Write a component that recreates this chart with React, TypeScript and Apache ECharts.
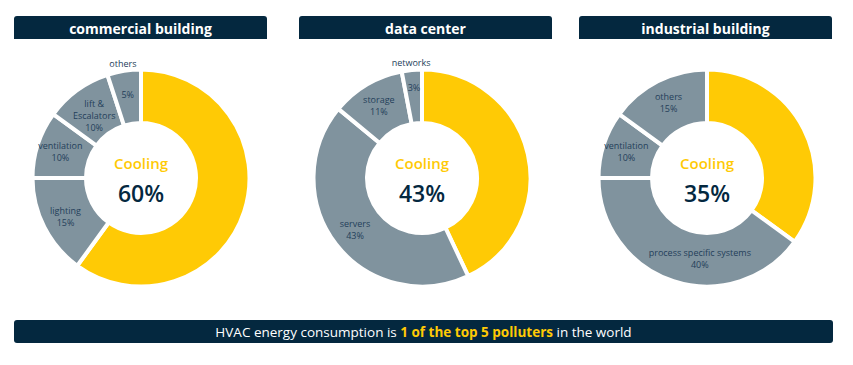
import React, { useEffect, useRef } from "react";
import * as echarts from "echarts";

const panelTitles = ["commercial building", "data center", "industrial building"];

const commercialNames = ["Cooling", "lighting", "ventilation", "lift &\nEscalators", "others"];
const commercialValues = [60, 15, 10, 10, 5];

const dataCenterNames = ["Cooling", "servers", "storage", "networks"];
const dataCenterValues = [43, 43, 11, 3];

const industrialNames = ["Cooling", "process specific systems", "ventilation", "others"];
const industrialValues = [35, 40, 10, 15];

// slices whose name sits outside the ring
const outsideNames = [["others"], ["networks"], []];

const bannerParts = ["HVAC energy consumption is ", "1 of the top 5 polluters", " in the world"];

const NAVY = "#04283F";
const YELLOW = "#FFCA05";
const GRAY = "#80939E";
const LABEL = "#24405A";
const FONT = "'Open Sans', 'Noto Sans', sans-serif";

export default function App() {
  const ref = useRef<HTMLDivElement>(null);

  useEffect(() => {
    if (!ref.current) return;
    const chart = echarts.init(ref.current, null, { renderer: "svg" });

    const panels = [
      { names: commercialNames, values: commercialValues, cx: 141 },
      { names: dataCenterNames, values: dataCenterValues, cx: 422 },
      { names: industrialNames, values: industrialValues, cx: 707 },
    ];
    const cy = 178;
    const headerX = [14, 299, 579];
    const headerW = 253;

    const itemTweaks: Record<string, any> = {
      "process specific systems": { padding: [0, 0, 0, 38] },
      networks: { formatter: "{c}%\n " },
      "lift &\nEscalators": { formatter: "\n{b}\n{c}%", padding: [0, 0, 0, 6] },
    };

    const series: any[] = [];
    panels.forEach((p, pi) => {
      const outs = outsideNames[pi];
      series.push({
        type: "pie",
        center: [p.cx, cy],
        radius: [55, 108.5],
        startAngle: 90,
        clockwise: true,
        silent: true,
        itemStyle: { borderColor: "#ffffff", borderWidth: 4 },
        labelLine: { show: false },
        emphasis: { disabled: true },
        data: p.names.map((n, i) => {
          const isCooling = i === 0;
          const outside = outs.indexOf(n) >= 0;
          return {
            name: n,
            value: p.values[i],
            itemStyle: { color: isCooling ? YELLOW : GRAY },
            label: {
              show: !isCooling,
              position: "inside",
              formatter: outside ? "{c}%" : "{b}\n{c}%",
              color: LABEL,
              fontSize: 9,
              lineHeight: 12,
              fontFamily: FONT,
              ...(itemTweaks[n] || {}),
            },
          };
        }),
      });
      if (outs.length) {
        series.push({
          type: "pie",
          center: [p.cx, cy],
          radius: [108, 118],
          startAngle: 90,
          clockwise: true,
          silent: true,
          itemStyle: { color: "rgba(0,0,0,0)" },
          labelLine: { show: false },
          emphasis: { disabled: true },
          data: p.names.map((n, i) => ({
            name: n,
            value: p.values[i],
            label: {
              show: outs.indexOf(n) >= 0,
              position: "inside",
              formatter: "{b}",
              color: LABEL,
              fontSize: 9,
              fontFamily: FONT,
            },
          })),
        });
      }
    });

    const graphic: any[] = [];
    panelTitles.forEach((t, i) => {
      graphic.push({
        type: "rect",
        shape: { x: headerX[i], y: 16, width: headerW, height: 23, r: [3, 3, 0, 0] },
        style: { fill: NAVY },
        silent: true,
      });
      graphic.push({
        type: "text",
        x: headerX[i] + headerW / 2,
        y: 28,
        style: {
          text: t,
          fill: "#ffffff",
          font: `bold 14px ${FONT}`,
          textAlign: "center",
          textVerticalAlign: "middle",
        },
        silent: true,
      });
    });
    panels.forEach((p) => {
      graphic.push({
        type: "text",
        x: p.cx,
        y: 163,
        style: {
          text: p.names[0],
          fill: YELLOW,
          font: `600 15px ${FONT}`,
          textAlign: "center",
          textVerticalAlign: "middle",
        },
        silent: true,
      });
      graphic.push({
        type: "text",
        x: p.cx,
        y: 193,
        style: {
          text: `${p.values[0]}%`,
          fill: NAVY,
          font: `600 23px ${FONT}`,
          textAlign: "center",
          textVerticalAlign: "middle",
        },
        silent: true,
      });
    });
    graphic.push({
      type: "rect",
      shape: { x: 14, y: 320, width: 819, height: 23, r: 3 },
      style: { fill: NAVY },
      silent: true,
    });
    graphic.push({
      type: "text",
      x: 423.5,
      y: 332,
      style: {
        text: `{w|${bannerParts[0]}}{y|${bannerParts[1]}}{w|${bannerParts[2]}}`,
        rich: {
          w: { fill: "#ffffff", font: `13.5px ${FONT}` },
          y: { fill: YELLOW, font: `bold 13.5px ${FONT}` },
        },
        textAlign: "center",
        textVerticalAlign: "middle",
      },
      silent: true,
    });

    chart.setOption({
      animation: false,
      backgroundColor: "#ffffff",
      series,
      graphic,
    });

    return () => chart.dispose();
  }, []);

  return (
    <div
      ref={ref}
      style={{ position: "absolute", left: 0, top: 0, width: 853, height: 365 }}
    />
  );
}
